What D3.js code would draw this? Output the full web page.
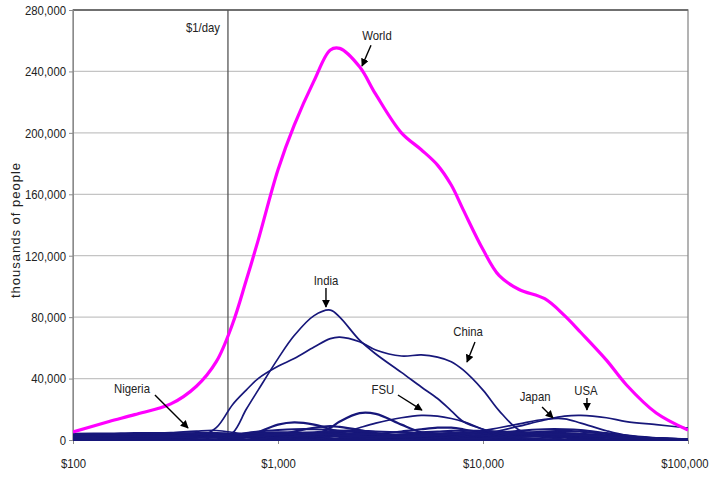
<!DOCTYPE html>
<html lang="en">
<head>
    <meta charset="UTF-8">
    <title>World income distribution</title>
    <script src="https://d3js.org/d3.v7.min.js"></script>
    <style>
        body { margin: 0; background: #fff; }
        text { font-family: "Liberation Sans", Arial, sans-serif; fill: #222; }
    </style>
</head>
<body>
    <svg width="712" height="481"></svg>

    <script>
        // income grid ($ per year, log scale)
        const incomes = [100, 150, 200, 300, 400, 500, 600, 700, 800, 1000, 1200, 1500, 1800, 2000, 2500, 3000,
                         4000, 5000, 6000, 7000, 8000, 10000, 12000, 15000, 20000, 25000, 30000, 40000, 50000, 70000, 100000];

        // thousands of people at each income
        const world   = [5200, 12000, 16500, 23500, 35000, 51000, 75500, 104000, 130000, 176000, 205000, 234000, 254000, 255000, 243000, 225000,
                         200000, 189000, 179000, 166000, 150000, 124000, 107000, 98000, 92000, 81000, 70000, 52000, 36000, 17600, 6500];
        const india   = [0, 0, 0, 0, 0, 300, 4500, 20000, 32500, 53000, 68000, 81000, 84600, 80000, 65000, 56000,
                         44000, 34500, 27000, 19000, 12000, 7000, 4500, 1500, 400, 0, 0, 0, 0, 0, 0];
        const china   = [0, 0, 0, 0, 1300, 8000, 23000, 32500, 40000, 48000, 53000, 60500, 66000, 67000, 64000, 58600,
                         54700, 55400, 54000, 51000, 45600, 32500, 19000, 6500, 2000, 500, 300, 0, 0, 0, 0];
        const fsu     = [0, 0, 0, 0, 0, 0, 0, 0, 0, 0, 0, 500, 2000, 4000, 8000, 11000,
                         14500, 16000, 15500, 14000, 12000, 7000, 3000, 1000, 500, 0, 0, 0, 0, 0, 0];
        const japan   = [0, 0, 0, 0, 0, 0, 0, 0, 0, 0, 0, 0, 0, 0, 0, 0,
                         300, 800, 1500, 2000, 3000, 6000, 8000, 10500, 13500, 13800, 11000, 6000, 3000, 1000, 500];
        const usa     = [0, 0, 0, 0, 0, 0, 0, 0, 0, 0, 0, 0, 0, 0, 0, 0,
                         500, 800, 1200, 1500, 2000, 4000, 6000, 9000, 13000, 15500, 16000, 14500, 12000, 10000, 7800];
        const nigeria = [2000, 3000, 3800, 4800, 5800, 6200, 5000, 3500, 2500, 1200, 600, 300, 0, 0, 0, 0,
                         0, 0, 0, 0, 0, 0, 0, 0, 0, 0, 0, 0, 0, 0, 0];

        // the many smaller countries, unlabelled
        const otherCountries = [
            [0, 0, 0, 0, 0, 0, 0, 0, 0, 500, 1000, 3000, 8000, 12000, 17500, 17000, 10000, 5000, 2500, 1000, 500, 0, 0, 0, 0, 0, 0, 0, 0, 0, 0],
            [0, 0, 0, 0, 0, 0, 500, 2000, 5000, 10000, 11500, 10000, 7000, 5000, 2000, 1000, 300, 0, 0, 0, 0, 0, 0, 0, 0, 0, 0, 0, 0, 0, 0],
            [0, 0, 0, 0, 0, 0, 0, 300, 1000, 3000, 5500, 8000, 9000, 8500, 6500, 4500, 2000, 800, 300, 0, 0, 0, 0, 0, 0, 0, 0, 0, 0, 0, 0],
            [0, 0, 0, 0, 0, 0, 0, 0, 0, 0, 0, 0, 300, 800, 2000, 3500, 5500, 7000, 8000, 8000, 7000, 4500, 2500, 1000, 300, 0, 0, 0, 0, 0, 0],
            [1000, 2000, 3000, 4000, 4500, 4500, 4000, 3000, 2000, 1000, 500, 200, 0, 0, 0, 0, 0, 0, 0, 0, 0, 0, 0, 0, 0, 0, 0, 0, 0, 0, 0],
            [3000, 3500, 3500, 3500, 3500, 3500, 3500, 3200, 3000, 2500, 2000, 1500, 1000, 700, 300, 0, 0, 0, 0, 0, 0, 0, 0, 0, 0, 0, 0, 0, 0, 0, 0],
            [500, 1000, 1500, 2000, 2500, 3000, 3500, 4000, 4500, 5000, 5000, 4500, 4000, 3500, 2500, 1500, 800, 400, 200, 0, 0, 0, 0, 0, 0, 0, 0, 0, 0, 0, 0],
            [0, 0, 300, 800, 1500, 2500, 3500, 4500, 5500, 6500, 7000, 7000, 6500, 6000, 5000, 4000, 2500, 1500, 1000, 500, 300, 0, 0, 0, 0, 0, 0, 0, 0, 0, 0],
            [0, 0, 0, 0, 200, 500, 1000, 1500, 2000, 3000, 4000, 5000, 5500, 6000, 6000, 5500, 5000, 4500, 4000, 3500, 3000, 2000, 1200, 600, 300, 0, 0, 0, 0, 0, 0],
            [0, 0, 0, 0, 0, 0, 0, 0, 0, 0, 0, 0, 0, 300, 1000, 2000, 3500, 5000, 5500, 6000, 6000, 6000, 5500, 5000, 4000, 2500, 1500, 500, 200, 0, 0],
            [0, 0, 0, 0, 0, 0, 0, 0, 0, 0, 0, 0, 0, 0, 0, 0, 0, 200, 500, 1000, 1500, 3000, 4500, 6000, 7000, 7000, 6500, 4500, 3000, 1200, 400],
            [0, 0, 0, 0, 0, 0, 0, 0, 0, 0, 0, 0, 0, 0, 0, 0, 0, 0, 0, 0, 300, 1000, 2500, 4000, 5500, 6000, 5500, 4000, 2500, 1000, 300],
            [0, 0, 0, 0, 0, 0, 0, 0, 0, 0, 0, 0, 0, 0, 0, 0, 0, 0, 0, 500, 1000, 2500, 3500, 4500, 5000, 4500, 4000, 3000, 2000, 1000, 500],
            [0, 0, 0, 0, 0, 0, 0, 0, 0, 0, 0, 0, 0, 500, 1000, 2000, 3000, 4000, 4000, 4500, 4500, 4000, 3500, 3000, 2000, 1500, 1000, 500, 0, 0, 0],
            [1500, 1800, 2000, 2200, 2500, 2500, 2500, 2500, 2500, 2500, 2500, 2500, 2500, 2500, 2500, 2500, 2500, 2500, 2500, 2500, 2500, 2500, 2500, 2500, 2500, 2300, 2000, 1500, 1000, 500, 200],
            [2500, 3000, 3000, 3000, 3200, 3200, 3000, 3000, 3000, 3200, 3500, 3500, 3200, 3000, 3000, 3200, 3500, 3500, 3200, 3000, 3000, 3200, 3500, 3500, 3200, 2800, 2500, 2000, 1500, 800, 300],
            [4000, 4200, 4500, 4500, 4000, 3500, 3000, 2500, 2000, 1500, 1000, 800, 500, 300, 0, 0, 0, 0, 0, 0, 0, 0, 0, 0, 0, 0, 0, 0, 0, 0, 0],
            [1000, 1200, 1500, 1500, 1800, 2000, 2000, 2200, 2500, 3000, 3500, 4000, 4500, 4500, 4000, 3500, 3000, 2500, 2000, 1500, 1200, 1000, 800, 500, 300, 0, 0, 0, 0, 0, 0],
            [0, 0, 0, 0, 0, 0, 0, 0, 0, 0, 0, 0, 0, 500, 1000, 1500, 2500, 3500, 4000, 4500, 5000, 5000, 5000, 5000, 4500, 4000, 3500, 2500, 1500, 800, 300],
            [500, 800, 1000, 1500, 2000, 2500, 3000, 3500, 4000, 4000, 3500, 3000, 2500, 2000, 1500, 1200, 1000, 1000, 1000, 1000, 1000, 1200, 1500, 2000, 2500, 3000, 3000, 2500, 2000, 1200, 500],
            [0, 0, 0, 0, 0, 0, 0, 0, 500, 1500, 2500, 3500, 4000, 4000, 4000, 3500, 3000, 2500, 2000, 1500, 1200, 800, 500, 300, 0, 0, 0, 0, 0, 0, 0],
            [2000, 2200, 2500, 2000, 1500, 1500, 2000, 2500, 3000, 3500, 4000, 4000, 3500, 3000, 2500, 2000, 2000, 2500, 3000, 3500, 4000, 4200, 4500, 4500, 4000, 3500, 3000, 2000, 1200, 600, 200],
            [0, 0, 0, 0, 0, 0, 0, 0, 0, 0, 0, 0, 0, 0, 0, 0, 0, 0, 0, 0, 0, 0, 0, 0, 0, 0, 0, 0, 0, 0, 0]
        ];

        const yTicks = [0, 40000, 80000, 120000, 160000, 200000, 240000, 280000];
        const xTicks = [100, 1000, 10000, 100000];
        const dollarDay = 570;

        // labels with arrows: text position, arrow start and tip (in data units)
        const labels = [
            { text: "World",   tx: 3040,  ty: 260500, from: [2842, 257000],  to: [2570, 243500] },
            { text: "India",   tx: 1714,  ty: 100900, from: [1714, 99000],   to: [1714, 86600] },
            { text: "China",   tx: 8450,  ty: 67700,  from: [9140, 63800],   to: [8356, 50800] },
            { text: "FSU",     tx: 3250,  ty: 30000,  from: [3846, 29300],   to: [5036, 19500] },
            { text: "Japan",   tx: 17950, ty: 25400,  from: [19420, 21500],  to: [21950, 14300] },
            { text: "USA",     tx: 31770, ty: 29300,  from: [32140, 27300],  to: [32140, 19500] },
            { text: "Nigeria", tx: 194,   ty: 30600,  from: [251, 29300],    to: [364, 7800] }
        ];

        const width = 712;
        const height = 481;
        const margin = { top: 10, right: 24, bottom: 41, left: 73 };

        const svg = d3.select("svg")
            .attr("width", width)
            .attr("height", height);

        const x = d3.scaleLog()
            .domain([100, 100000])
            .range([margin.left, width - margin.right]);

        const y = d3.scaleLinear()
            .domain([0, 280000])
            .range([height - margin.bottom, margin.top]);

        // squeeze text horizontally to mimic a narrow font
        function narrow(sel, k = 0.84) {
            sel.each(function() {
                const w = this.getComputedTextLength();
                d3.select(this)
                    .attr("textLength", w * k)
                    .attr("lengthAdjust", "spacingAndGlyphs");
            });
        }

        // gridlines
        svg.append("g")
            .selectAll("line")
            .data(yTicks.slice(1, -1))
            .join("line")
            .attr("x1", margin.left)
            .attr("x2", width - margin.right)
            .attr("y1", d => y(d))
            .attr("y2", d => y(d))
            .attr("stroke", "#c4c4c4")
            .attr("stroke-width", 1.2);

        // plot frame
        svg.append("rect")
            .attr("x", margin.left)
            .attr("y", margin.top)
            .attr("width", width - margin.left - margin.right)
            .attr("height", height - margin.top - margin.bottom)
            .attr("fill", "none")
            .attr("stroke", "#8a8a8a")
            .attr("stroke-width", 1.3);

        svg.append("line")
            .attr("x1", margin.left)
            .attr("x2", width - margin.right)
            .attr("y1", margin.top)
            .attr("y2", margin.top)
            .attr("stroke", "#707070")
            .attr("stroke-width", 2);

        // y axis
        const yAxis = d3.axisLeft(y)
            .tickValues(yTicks)
            .tickSize(4)
            .tickPadding(3)
            .tickFormat(d3.format(","));

        svg.append("g")
            .attr("transform", `translate(${margin.left},0)`)
            .call(yAxis)
            .call(g => g.select(".domain").attr("stroke", "#8a8a8a"))
            .call(g => g.selectAll(".tick line").attr("stroke", "#8a8a8a"))
            .call(g => g.selectAll("text")
                .style("font-family", "'Liberation Sans', Arial, sans-serif")
                .style("font-size", "13.5px").attr("fill", "#222")
                .call(narrow));

        // x axis
        const xAxis = d3.axisBottom(x)
            .tickValues(xTicks)
            .tickSize(4)
            .tickPadding(14)
            .tickFormat(d => "$" + d3.format(",")(d));

        svg.append("g")
            .attr("transform", `translate(0,${height - margin.bottom})`)
            .call(xAxis)
            .call(g => g.select(".domain").attr("stroke", "#8a8a8a"))
            .call(g => g.selectAll(".tick line").attr("stroke", "#8a8a8a"))
            .call(g => g.selectAll("text")
                .style("font-family", "'Liberation Sans', Arial, sans-serif")
                .style("font-size", "13.5px").attr("fill", "#222")
                .call(narrow))
            // last label sits against the right edge
            .call(g => g.selectAll(".tick:last-of-type text")
                .attr("text-anchor", "end")
                .attr("x", 20));

        svg.append("text")
            .attr("transform", `translate(20,${(margin.top + height - margin.bottom) / 2 + 5}) rotate(-90)`)
            .attr("text-anchor", "middle")
            .style("font-size", "13px")
            .style("letter-spacing", "1px")
            .text("thousands of people");

        // $1/day line
        svg.append("line")
            .attr("x1", x(dollarDay))
            .attr("x2", x(dollarDay))
            .attr("y1", margin.top)
            .attr("y2", height - margin.bottom)
            .attr("stroke", "#555")
            .attr("stroke-width", 1.3);

        svg.append("text")
            .attr("x", x(dollarDay) - 8)
            .attr("y", margin.top + 22)
            .attr("text-anchor", "end")
            .style("font-size", "13.5px")
            .text("$1/day")
            .call(narrow);

        // keep the curves inside the plot
        svg.append("clipPath")
            .attr("id", "plot")
            .append("rect")
            .attr("x", margin.left)
            .attr("y", margin.top)
            .attr("width", width - margin.left - margin.right)
            .attr("height", height - margin.top - margin.bottom + 1);

        const line = d3.line()
            .x((d, i) => x(incomes[i]))
            .y(d => y(Math.max(0, d)))
            .curve(d3.curveCatmullRom.alpha(0.5));

        const curves = svg.append("g").attr("clip-path", "url(#plot)");

        // country curves
        curves.append("g")
            .selectAll("path")
            .data(otherCountries)
            .join("path")
            .attr("d", line)
            .attr("fill", "none")
            .attr("stroke", "#17177a")
            .attr("stroke-width", 2.2);

        curves.append("g")
            .selectAll("path")
            .data([nigeria, usa, japan, fsu, china, india])
            .join("path")
            .attr("d", line)
            .attr("fill", "none")
            .attr("stroke", "#17177a")
            .attr("stroke-width", 1.7);

        // world curve
        curves.append("path")
            .datum(world)
            .attr("d", line)
            .attr("fill", "none")
            .attr("stroke", "#ff00ff")
            .attr("stroke-width", 3.2);

        // annotations
        svg.append("defs").append("marker")
            .attr("id", "arrow")
            .attr("viewBox", "0 0 10 10")
            .attr("refX", 9)
            .attr("refY", 5)
            .attr("markerWidth", 8)
            .attr("markerHeight", 8)
            .attr("markerUnits", "userSpaceOnUse")
            .attr("orient", "auto")
            .append("path")
            .attr("d", "M0,0L10,5L0,10z")
            .attr("fill", "#000");

        const notes = svg.append("g");

        notes.selectAll("line")
            .data(labels)
            .join("line")
            .attr("x1", d => x(d.from[0]))
            .attr("y1", d => y(d.from[1]))
            .attr("x2", d => x(d.to[0]))
            .attr("y2", d => y(d.to[1]))
            .attr("stroke", "#000")
            .attr("stroke-width", 1.4)
            .attr("marker-end", "url(#arrow)");

        notes.selectAll("text")
            .data(labels)
            .join("text")
            .attr("x", d => x(d.tx))
            .attr("y", d => y(d.ty))
            .attr("text-anchor", "middle")
            .style("font-size", "13.5px")
            .text(d => d.text)
            .call(narrow);
    </script>
</body>
</html>
